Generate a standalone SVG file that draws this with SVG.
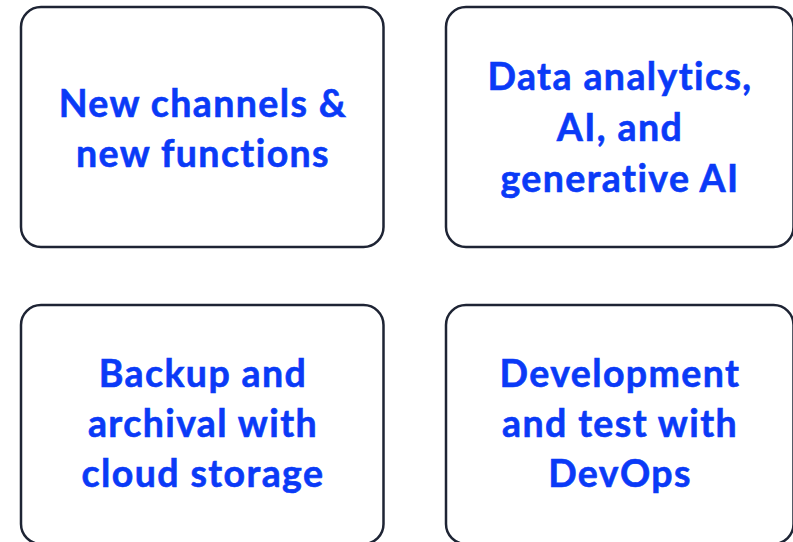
<svg xmlns="http://www.w3.org/2000/svg" width="793" height="542" viewBox="0 0 793 542">
  <style>
    .box { fill: #ffffff; stroke: #1e2434; stroke-width: 2.5; }
    .lbl { font-family: Lato, "Liberation Sans", sans-serif; font-weight: 700; font-size: 37.5px; letter-spacing: 1.4px; fill: #0a3af7; stroke: #0a3af7; stroke-width: 0.6; text-anchor: middle; }
  </style>
  <rect width="793" height="542" fill="#ffffff"/>
  <g id="connectors"></g>
  <g id="node-channels">
    <rect class="box" x="21" y="7" width="362.5" height="240" rx="20" ry="20"/>
    <text class="lbl" x="203" y="117">New channels &amp;</text>
    <text class="lbl" x="203" y="167">new functions</text>
  </g>
  <g id="node-analytics">
    <rect class="box" x="446" y="7" width="347.5" height="240" rx="20" ry="20"/>
    <text class="lbl" x="620" y="90">Data analytics,</text>
    <text class="lbl" x="620" y="141">AI, and</text>
    <text class="lbl" x="620" y="192">generative AI</text>
  </g>
  <g id="node-backup">
    <rect class="box" x="21" y="305" width="362.5" height="239" rx="20" ry="20"/>
    <text class="lbl" x="203" y="387">Backup and</text>
    <text class="lbl" x="203" y="437">archival with</text>
    <text class="lbl" x="203" y="487">cloud storage</text>
  </g>
  <g id="node-devops">
    <rect class="box" x="446" y="305" width="347.5" height="239" rx="20" ry="20"/>
    <text class="lbl" x="620" y="387">Development</text>
    <text class="lbl" x="620" y="437">and test with</text>
    <text class="lbl" x="620" y="487">DevOps</text>
  </g>
</svg>
